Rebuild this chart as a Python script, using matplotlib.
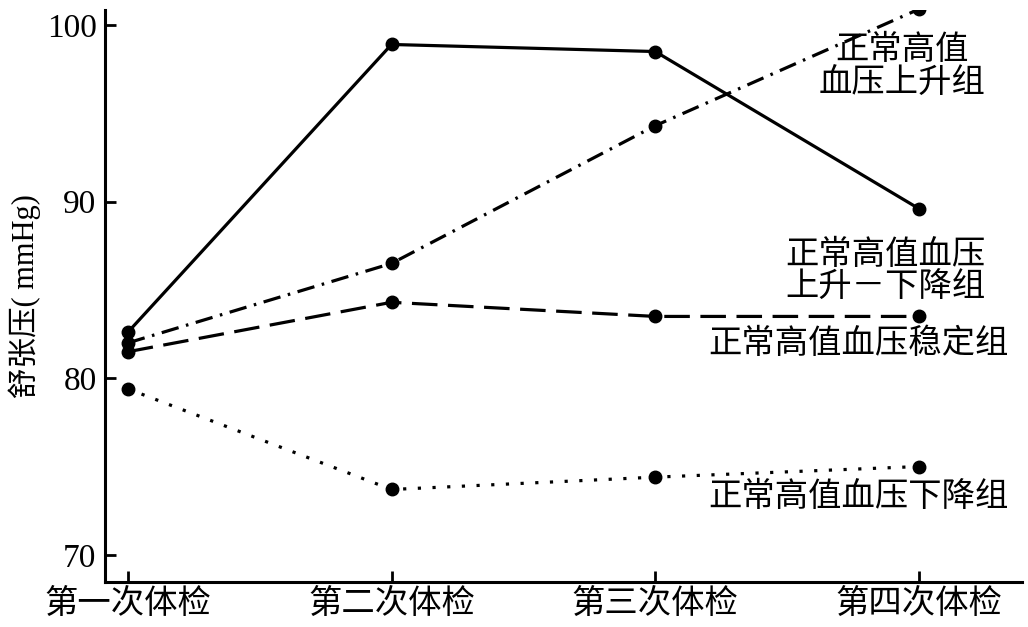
import matplotlib
matplotlib.use('Agg')
import matplotlib.pyplot as plt

plt.rcParams['font.family'] = ['Liberation Serif', 'Noto Sans CJK SC']

visits = ['第一次体检', '第二次体检', '第三次体检', '第四次体检']
rise_fall = [82.6, 98.9, 98.5, 89.6]
rise = [82.0, 86.5, 94.3, 100.9]
stable = [81.5, 84.3, 83.5, 83.5]
fall = [79.4, 73.7, 74.4, 75.0]

fig = plt.figure(figsize=(10.28, 6.27), dpi=100)
ax = fig.add_axes([0.102, 0.072, 0.892, 0.912])

x = range(len(visits))
lw = 2.3
ms = 9
ax.plot(x, rise_fall, color='k', lw=lw, ls='-', marker='o', ms=ms)
ax.plot(x, rise, color='k', lw=lw, ls=(0, (5.5, 2.4, 0.8, 2.4)), marker='o', ms=ms)
ax.plot(x, stable, color='k', lw=lw, ls=(0, (8, 3.3)), marker='o', ms=ms)
ax.plot(x, fall, color='k', lw=lw, ls=(0, (1, 3.6)), marker='o', ms=ms)

fs = 24
ax.text(2.935, 97.6, '正常高值\n血压上升组', ha='center', va='center', fontsize=fs, linespacing=1.12)
ax.text(2.874, 86.0, '正常高值血压\n上升－下降组', ha='center', va='center', fontsize=fs, linespacing=1.08)
ax.text(2.772, 81.95, '正常高值血压稳定组', ha='center', va='center', fontsize=fs)
ax.text(2.772, 73.25, '正常高值血压下降组', ha='center', va='center', fontsize=fs)

ax.set_xlim(-0.087, 3.39)
ax.set_ylim(68.47, 100.85)
ax.set_xticks(list(x))
ax.set_xticklabels(visits, fontsize=fs)
ax.set_yticks([70, 80, 90, 100])
ax.tick_params(axis='y', labelsize=24, direction='in', length=8, width=2, pad=6)
ax.tick_params(axis='x', direction='in', length=8, width=2, pad=5)
ax.set_ylabel('舒张压( mmHg)', fontsize=22, labelpad=4)

for s in ['top', 'right']:
    ax.spines[s].set_visible(False)
for s in ['left', 'bottom']:
    ax.spines[s].set_linewidth(2.2)

fig.savefig('out.png', dpi=100)
